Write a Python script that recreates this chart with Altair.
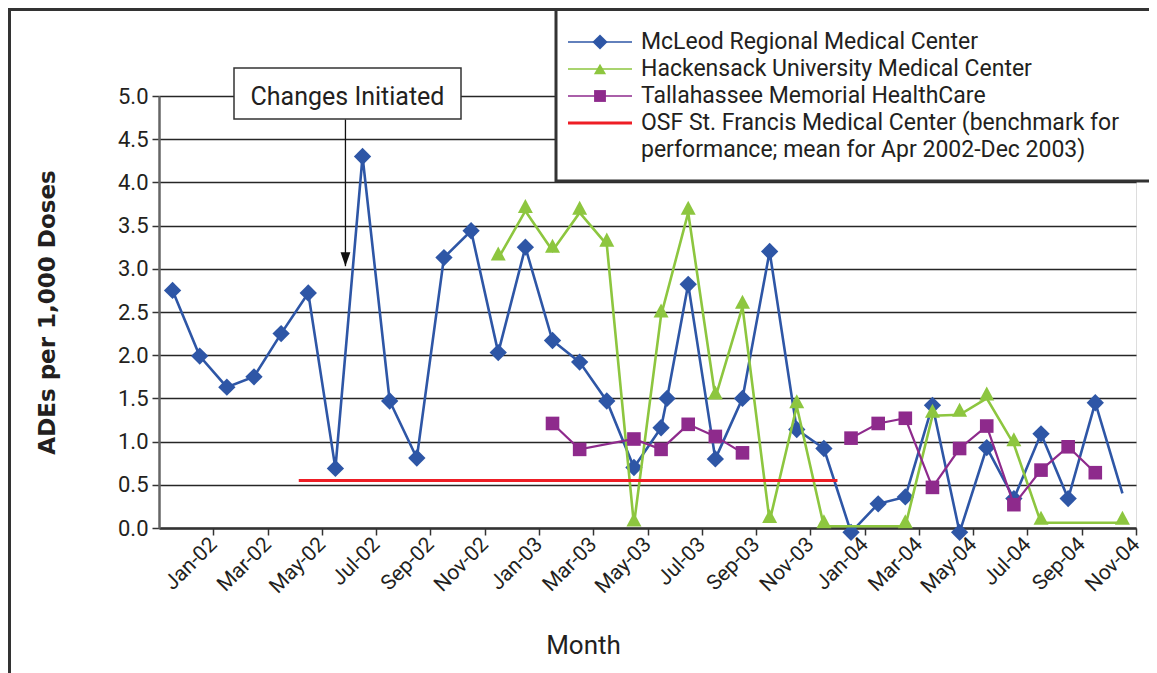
import json
import pandas as pd
import altair as alt

# ---------------- data ----------------
month_names = ["Jan", "Feb", "Mar", "Apr", "May", "Jun", "Jul", "Aug", "Sep", "Oct", "Nov", "Dec"]
months = [f"{m}-{y:02d}" for y in (2, 3, 4) for m in month_names]  # 36 categories Jan-02 .. Dec-04

# McLeod Regional Medical Center (month index, value)
mcleod_idx = [0, 1, 2, 3, 4, 5, 6, 7, 8, 9, 10, 11, 12, 13, 14, 15, 16, 17, 18, 18.22,
              19, 20, 21, 22, 23, 24, 25, 26, 27, 28, 29, 30, 31, 32, 33, 34, 35]
mcleod_val = [2.75, 1.99, 1.63, 1.75, 2.25, 2.72, 0.69, 4.30, 1.47, 0.81, 3.13, 3.44,
              2.03, 3.25, 2.17, 1.92, 1.47, 0.70, 1.16, 1.50,
              2.82, 0.80, 1.50, 3.20, 1.14, 0.92, -0.05, 0.28, 0.36, 1.42, -0.05, 0.93,
              0.34, 1.09, 0.34, 1.45, 0.40]
mcleod_marker = [True] * 36 + [False]

# Hackensack University Medical Center
hack_idx = [12, 13, 14, 15, 16, 17, 18, 19, 20, 21, 22, 23, 24, 27, 28, 29, 30, 31, 32, 35]
hack_val = [3.12, 3.67, 3.21, 3.65, 3.28, 0.04, 2.46, 3.65, 1.51, 2.56, 0.08, 1.41, 0.02,
            0.02, 1.30, 1.31, 1.50, 0.97, 0.06, 0.06]

# Tallahassee Memorial HealthCare
tal_idx = [14, 15, 17, 18, 19, 20, 21, 25, 26, 27, 28, 29, 30, 31, 32, 33, 34]
tal_val = [1.21, 0.91, 1.03, 0.91, 1.20, 1.06, 0.87, 1.04, 1.21, 1.27, 0.47, 0.92, 1.18,
           0.27, 0.67, 0.94, 0.64]
tal_seg = [1] * 7 + [2] * 10

# OSF St. Francis benchmark (axis units, value)
bench_start, bench_end, bench_val = 5.15, 25.0, 0.55

# annotation arrow (axis units)
arrow_x, arrow_top, arrow_tip = 6.87, 4.73, 3.03

series_names = ["McLeod Regional Medical Center",
                "Hackensack University Medical Center",
                "Tallahassee Memorial HealthCare",
                ["OSF St. Francis Medical Center (benchmark for",
                 "performance; mean for Apr 2002-Dec 2003)"]]
series_colors = ["#2E56A6", "#8DC63F", "#8E2A8C", "#EE1D25"]

FONT = "Roboto"
TXT = "#231F20"

# ---------------- tables ----------------
mc = pd.DataFrame({"x": [i + 0.5 for i in mcleod_idx], "y": mcleod_val, "marker": mcleod_marker})
hk = pd.DataFrame({"x": [i + 0.5 for i in hack_idx], "y": hack_val})
tl = pd.DataFrame({"x": [i + 0.5 for i in tal_idx], "y": tal_val, "seg": tal_seg})
bm = pd.DataFrame({"x": [bench_start], "x2": [bench_end], "y": [bench_val]})
ar = pd.DataFrame({"x": [arrow_x], "y": [arrow_top], "y2": [arrow_tip]})
one = pd.DataFrame({"a": [0]})

tick_labels = months[0::2]
x_axis = alt.Axis(
    values=list(range(2, 37, 2)),
    labelExpr=json.dumps(tick_labels) + "[datum.value/2-1]",
    labelAngle=-45, labelAlign="right", labelBaseline="middle", labelOverlap=False,
    labelFontSize=21, labelColor=TXT, labelPadding=6, labelFont=FONT,
    tickSize=7, tickColor="#333333", tickWidth=1.5,
    domainColor="#333333", domainWidth=2.5, grid=False,
    title="Month", titleFontSize=26, titleFontWeight="normal", titleColor=TXT, titleFont=FONT,
    titleX=424, titleY=125, titleAlign="center", titleBaseline="alphabetic",
)
y_axis = alt.Axis(
    values=[v / 2 for v in range(0, 11)], format=".1f",
    labelFontSize=22, labelColor=TXT, labelPadding=4, labelFont=FONT,
    tickSize=7, tickColor="#333333", tickWidth=1.5,
    domainColor="#666666", domainWidth=2.5,
    grid=True, gridColor="#262626", gridWidth=1.6,
    title="ADEs per 1,000 Doses", titleFont="DejaVu Sans", titleFontWeight="bold",
    titleFontSize=23, titleColor=TXT, titleAngle=270, titleX=-112, titleY=216,
    titleAlign="center", titleBaseline="middle",
)
X = alt.X("x:Q", scale=alt.Scale(domain=[0, 36], nice=False, zero=False), axis=x_axis)
Y = alt.Y("y:Q", scale=alt.Scale(domain=[0, 5], nice=False, zero=False), axis=y_axis)

tri_path = "M0,-1.6L1,0.27L-1,0.27Z"

layers = []
# McLeod
layers.append(alt.Chart(mc).mark_line(color=series_colors[0], strokeWidth=2.6).encode(x=X, y=Y))
layers.append(alt.Chart(mc).transform_filter("datum.marker").mark_point(
    shape="diamond", filled=True, size=300, color=series_colors[0], opacity=1).encode(x=X, y=Y))
# Hackensack
layers.append(alt.Chart(hk).mark_line(color=series_colors[1], strokeWidth=2.6).encode(x=X, y=Y))
layers.append(alt.Chart(hk).mark_point(
    shape=tri_path, filled=True, size=225, color=series_colors[1], opacity=1).encode(x=X, y=Y))
# Tallahassee
layers.append(alt.Chart(tl).mark_line(color=series_colors[2], strokeWidth=2.2).encode(
    x=X, y=Y, detail="seg:N"))
layers.append(alt.Chart(tl).mark_point(
    shape="square", filled=True, size=185, color=series_colors[2], opacity=1).encode(x=X, y=Y))
# Benchmark
layers.append(alt.Chart(bm).mark_rule(color=series_colors[3], strokeWidth=3).encode(
    x=X, x2="x2:Q", y=Y))

# Annotation
layers.append(alt.Chart(ar).mark_rule(color="#111111", strokeWidth=1.3).encode(x=X, y=Y, y2="y2:Q"))
layers.append(alt.Chart(ar).mark_point(
    shape="M-0.7,-2L0.7,-2L0,0Z", filled=True, size=196, color="#111111", opacity=1).encode(
    x=X, y=alt.Y("y2:Q")))
layers.append(alt.Chart(one).mark_rect(fill="white", stroke="#333333", strokeWidth=1.5).encode(
    x=alt.value(75), x2=alt.value(302), y=alt.value(-28), y2=alt.value(23)))
layers.append(alt.Chart(one).mark_text(
    text="Changes Initiated", font=FONT, fontSize=25, color=TXT, align="center",
    baseline="alphabetic").encode(x=alt.value(188.5), y=alt.value(8.5)))

# Legend box
layers.append(alt.Chart(one).mark_rect(fill="white", stroke="#333333", strokeWidth=3).encode(
    x=alt.value(397), x2=alt.value(1030), y=alt.value(-87), y2=alt.value(85)))
leg_y = [-54, -27, 0, 27]
leg_shapes = ["diamond", "triangle-up", "square", None]
leg_sizes = [230, 150, 140, 0]
for i, name in enumerate(series_names):
    yy = leg_y[i]
    layers.append(alt.Chart(one).mark_rule(color=series_colors[i],
                                           strokeWidth=1.5 if i < 3 else 3).encode(
        x=alt.value(409), x2=alt.value(473), y=alt.value(yy)))
    if leg_shapes[i]:
        layers.append(alt.Chart(one).mark_point(
            shape=leg_shapes[i], filled=True, size=leg_sizes[i], color=series_colors[i],
            opacity=1).encode(x=alt.value(441), y=alt.value(yy)))
    layers.append(alt.Chart(one).mark_text(
        text=name, font=FONT, fontSize=23, color=TXT, align="left", baseline="middle",
        lineHeight=27).encode(x=alt.value(482), y=alt.value(yy)))

# Outer frame
layers.append(alt.Chart(one).mark_rect(fill=None, stroke="#333333", strokeWidth=3).encode(
    x=alt.value(-149.5), x2=alt.value(1200), y=alt.value(-86.5), y2=alt.value(700)))

chart = alt.layer(*layers).properties(
    width=977, height=432,
    autosize=alt.AutoSizeParams(type="none"),
    padding={"left": 151, "top": 88, "right": 13, "bottom": 145},
).configure_view(stroke="#666666", strokeWidth=2.5).configure(background="white")

chart.save("out.html", embed_options={"renderer": "svg", "actions": False})
